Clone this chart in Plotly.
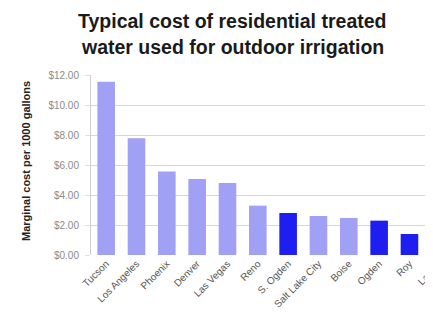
import plotly.graph_objects as go

cities = ["Tucson", "Los Angeles", "Phoenix", "Denver", "Las Vegas", "Reno",
          "S. Ogden", "Salt Lake City", "Boise", "Ogden", "Roy", "Layton"]
costs = [11.55, 7.78, 5.56, 5.07, 4.80, 3.29, 2.80, 2.60, 2.47, 2.29, 1.40, 1.13]
utah = [False, False, False, False, False, False, True, False, False, True, True, True]
tick_vals = [0, 2, 4, 6, 8, 10, 12]
tick_text = ["$0.00", "$2.00", "$4.00", "$6.00", "$8.00", "$10.00", "$12.00"]

colors = ["#1e1ef0" if u else "#a0a0f5" for u in utah]

L, R, T, B = 83, 0, 67, 71
W, H = 433, 318
pw = W - L - R
ph = H - T - B


def px(x):
    return (x - L) / pw


def py(y_from_top):
    return (H - y_from_top - B) / ph


fig = go.Figure(go.Bar(x=cities, y=costs, marker=dict(color=colors, line=dict(width=0)),
                       width=0.58))

fig.update_layout(
    width=W, height=H,
    margin=dict(l=L, r=R, t=T, b=B, autoexpand=False),
    paper_bgcolor="white", plot_bgcolor="white",
    showlegend=False,
    font=dict(family="Liberation Sans, Arial, sans-serif"),
    annotations=[
        dict(text="<b>Typical cost of residential treated</b>", x=px(224), y=py(13),
             xref="paper", yref="paper", showarrow=False, xanchor="center", yanchor="middle",
             font=dict(size=19.5, color="#1a1a1a")),
        dict(text="<b>water used for outdoor irrigation</b>", x=px(224), y=py(39),
             xref="paper", yref="paper", showarrow=False, xanchor="center", yanchor="middle",
             font=dict(size=19.5, color="#1a1a1a")),
        dict(text="<b>Marginal cost per 1000 gallons</b>", x=px(18), y=py(153),
             xref="paper", yref="paper", showarrow=False, xanchor="center", yanchor="middle",
             textangle=-90, font=dict(size=11, color="#222222")),
    ],
)

fig.update_xaxes(range=[-0.5, 11.04], tickangle=-45, tickfont=dict(size=10, color="#555555"),
                 showline=False, ticks="", showgrid=False, automargin=False)
fig.update_yaxes(range=[0, 12], tickvals=tick_vals, ticktext=tick_text,
                 tickfont=dict(size=10, color="#8a8a8a"),
                 showgrid=True, gridcolor="#d8d8d8", gridwidth=1,
                 showline=True, linecolor="#cfcfcf", linewidth=1,
                 ticks="outside", ticklen=5, tickcolor="#e0e0e0",
                 ticklabelstandoff=4,
                 zeroline=False, automargin=False)

fig.write_html("out.html")
